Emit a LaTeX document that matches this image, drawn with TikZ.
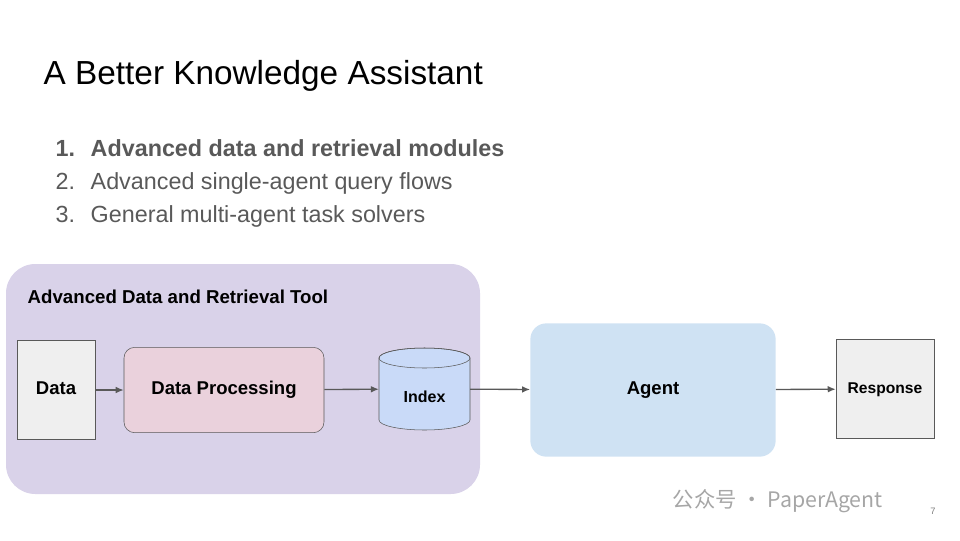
\documentclass[tikz,border=0pt]{standalone}
\usepackage{fontspec}
\setmainfont{Liberation Sans}
\newfontfamily\cjk{Noto Sans CJK SC}
\usetikzlibrary{positioning,arrows.meta}
\definecolor{toolbg}{HTML}{D9D2E9}
\definecolor{databg}{HTML}{EFEFEF}
\definecolor{procbg}{HTML}{EAD1DC}
\definecolor{indexbg}{HTML}{C9DAF8}
\definecolor{agentbg}{HTML}{CFE2F3}
\definecolor{edge}{HTML}{595959}
\definecolor{listgray}{HTML}{595959}
\begin{document}
\begin{tikzpicture}
[ x=0.75pt, y=-0.75pt
, block/.style={rectangle, draw=edge, thin, text height=1.5ex, text depth=0.3ex, font=\bfseries\fontsize{13.9}{16}\selectfont, inner sep=0pt}
, num/.style={anchor=west, text=listgray, text height=1.6ex, text depth=0.4ex, font=\fontsize{17.5}{21}\selectfont}
, flow/.style={draw=edge, line width=1pt, -{Latex[length=6pt,width=5pt]}}
]
\useasboundingbox (0,0) rectangle (960,540);
% Title and list
\node (title) [anchor=west, font=\fontsize{25}{30}\selectfont] at (39,76) {A Better Knowledge Assistant};
\node (n1) [num, font=\bfseries\fontsize{17.5}{21}\selectfont] at (51,152) {1.};
\node (item1) [num, font=\bfseries\fontsize{17.5}{21}\selectfont] at (86,152) {Advanced data and retrieval modules};
\node (n2) [num] at (51,185) {2.};
\node (item2) [num] at (86,185) {Advanced single-agent query flows};
\node (n3) [num] at (51,218) {3.};
\node (item3) [num] at (86,218) {General multi-agent task solvers};
% Tool area
\fill [toolbg, rounded corners=22pt] (6,264) rectangle (480,494);
\node (tool) [anchor=west, font=\bfseries\fontsize{14}{17}\selectfont] at (23,297) {Advanced Data and Retrieval Tool};
% Blocks
\node (data) [block, fill=databg, minimum width=58.5pt, minimum height=74pt] at (56,390) {Data};
\node (proc) [block, fill=procbg, rounded corners=8pt, minimum width=150pt, minimum height=64pt] at (224,390) {Data Processing};
\filldraw [draw=edge, thin, fill=indexbg] (379,358) -- (379,420) arc[start angle=180, end angle=0, x radius=45.5, y radius=10] -- (470,358) arc[start angle=0, end angle=-180, x radius=45.5, y radius=10] -- cycle;
\draw [edge, thin] (424.5,358) ellipse[x radius=45.5, y radius=10];
\node (index) [minimum width=68pt, minimum height=62pt, inner sep=0pt] at (424.5,389) {};
\node (indexlbl) [font=\bfseries\fontsize{12}{14}\selectfont] at (424.5,397) {Index};
\node (agent) [block, draw=none, fill=agentbg, rounded corners=12pt, minimum width=184pt, minimum height=100pt] at (653,390) {Agent};
\node (resp) [block, fill=databg, minimum width=73.5pt, minimum height=74pt, font=\bfseries\fontsize{11.7}{14}\selectfont] at (885,389) {Response};
% Connectors
\draw [flow] (data) -- (proc);
\draw [flow] (proc) -- (index);
\draw [flow] (index) -- (agent);
\draw [flow] (agent) -- (resp);
% Watermark and page number
\node (mark) [anchor=west, text=gray!70, font=\cjk\fontsize{16}{19}\selectfont] at (668,501) {公众号 · PaperAgent};
\node (page) [font=\fontsize{7}{8}\selectfont, text=gray] at (933,511) {7};
\end{tikzpicture}
\end{document}
